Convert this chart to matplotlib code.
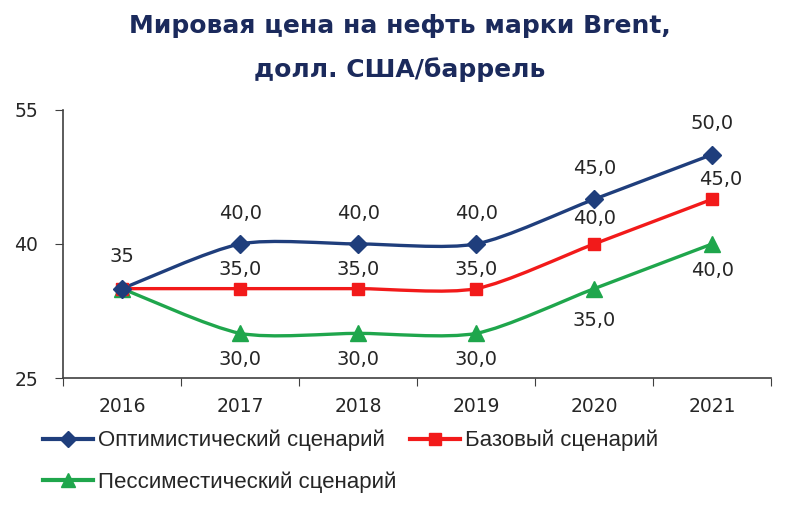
import matplotlib.pyplot as plt
from matplotlib.path import Path
from matplotlib.patches import PathPatch
from matplotlib.lines import Line2D

years = ['2016', '2017', '2018', '2019', '2020', '2021']
optimistic = [35, 40, 40, 40, 45, 50]
base = [35, 35, 35, 35, 40, 45]
pessimistic = [35, 30, 30, 30, 35, 40]
series_names = ['Оптимистический сценарий', 'Базовый сценарий', 'Пессиместический сценарий']
y_ticks = [25, 40, 55]

colors = ['#1F3E7C', '#F21A1A', '#1FA64C']
markers = ['D', 's', '^']
marker_sizes = [9, 9, 11]
label_offsets = [22, 14, -19]  # points, + above / - below


def smooth_path(xs, ys, k=1 / 8):
    # Excel-like smoothed line: cubic Bezier through each point
    pts = list(zip(xs, ys))
    verts = [pts[0]]
    codes = [Path.MOVETO]
    n = len(pts)
    for i in range(n - 1):
        p0 = pts[i - 1] if i > 0 else pts[i]
        p1 = pts[i]
        p2 = pts[i + 1]
        p3 = pts[i + 2] if i + 2 < n else pts[i + 1]
        c1 = (p1[0] + (p2[0] - p0[0]) * k, p1[1] + (p2[1] - p0[1]) * k)
        c2 = (p2[0] - (p3[0] - p1[0]) * k, p2[1] - (p3[1] - p1[1]) * k)
        verts += [c1, c2, p2]
        codes += [Path.CURVE4] * 3
    return Path(verts, codes)


fig = plt.figure(figsize=(8, 5.28), dpi=100)
ax = fig.add_axes([0.079, 0.284, 0.885, 0.508])

x = list(range(len(years)))
all_series = [optimistic, base, pessimistic]

# draw pessimistic first so the blue line sits on top at 2016
for idx in [2, 1, 0]:
    vals = all_series[idx]
    patch = PathPatch(smooth_path(x, vals), facecolor='none', edgecolor=colors[idx],
                      lw=2.4, capstyle='round', joinstyle='round', zorder=2 + (2 - idx))
    ax.add_patch(patch)
    ax.plot(x, vals, linestyle='none', marker=markers[idx], markersize=marker_sizes[idx],
            color=colors[idx], zorder=5 + (2 - idx))

# data labels
label_kw = dict(ha='center', va='center', fontsize=14, color='#262626',
                family='DejaVu Sans', textcoords='offset points')
for idx, vals in enumerate(all_series):
    for i, v in enumerate(vals):
        if i == 0:
            if idx == 0:
                ax.annotate(f'{v}', (x[i], v), xytext=(0, 23), **label_kw)
            continue
        dx = 6 if (idx == 1 and i == len(vals) - 1) else 0
        dy = label_offsets[idx]
        if idx == 2 and i == 4:
            dy = -23
        if idx == 1 and i == 4:
            dy = 18
        ax.annotate(f'{v:.1f}'.replace('.', ','), (x[i], v), xytext=(dx, dy), **label_kw)

ax.set_xlim(-0.5, len(years) - 0.5)
ax.set_ylim(25, 55)
ax.set_yticks(y_ticks)
ax.set_yticklabels([str(t) for t in y_ticks])

# category axis: tick marks between categories, labels at centres
ax.set_xticks([i - 0.5 for i in range(len(years) + 1)])
ax.set_xticklabels([])
ax.set_xticks(x, minor=True)
ax.set_xticklabels(years, minor=True)
ax.tick_params(axis='x', which='major', direction='out', length=6, color='#404040')
ax.tick_params(axis='x', which='minor', length=0, pad=14, labelsize=13.5, labelcolor='#262626')
ax.tick_params(axis='y', direction='out', length=6, color='#404040', labelsize=13.5,
               labelcolor='#262626', pad=12)
for lab in ax.get_xticklabels(minor=True) + ax.get_yticklabels():
    lab.set_family('DejaVu Sans')

for s in ['top', 'right']:
    ax.spines[s].set_visible(False)
for s in ['left', 'bottom']:
    ax.spines[s].set_color('#404040')
    ax.spines[s].set_linewidth(1.2)

title_kw = dict(ha='center', va='baseline', fontsize=18, fontweight='bold',
                color='#1B2A5C', family='DejaVu Sans')
fig.text(0.5, 1 - 33 / 528, 'Мировая цена на нефть марки Brent,', **title_kw)
fig.text(0.5, 1 - 77 / 528, 'долл. США/баррель', **title_kw)

# ncol=2 fills column by column: put the pessimistic entry second
order = [0, 2, 1]
handles = [Line2D([], [], color=colors[i], lw=3, marker=markers[i],
                  markersize=marker_sizes[i] - 1) for i in order]
leg = fig.legend(handles, [series_names[i] for i in order], loc='upper left',
                 bbox_to_anchor=(0.04, 0.207), ncol=2, frameon=False, borderpad=0,
                 handlelength=2.25, handletextpad=0.22, columnspacing=0.6,
                 labelspacing=0.9,
                 prop={'family': ['Liberation Sans', 'DejaVu Sans'], 'size': 16})
for t in leg.get_texts():
    t.set_color('#262626')

fig.savefig('out.png', dpi=100)
